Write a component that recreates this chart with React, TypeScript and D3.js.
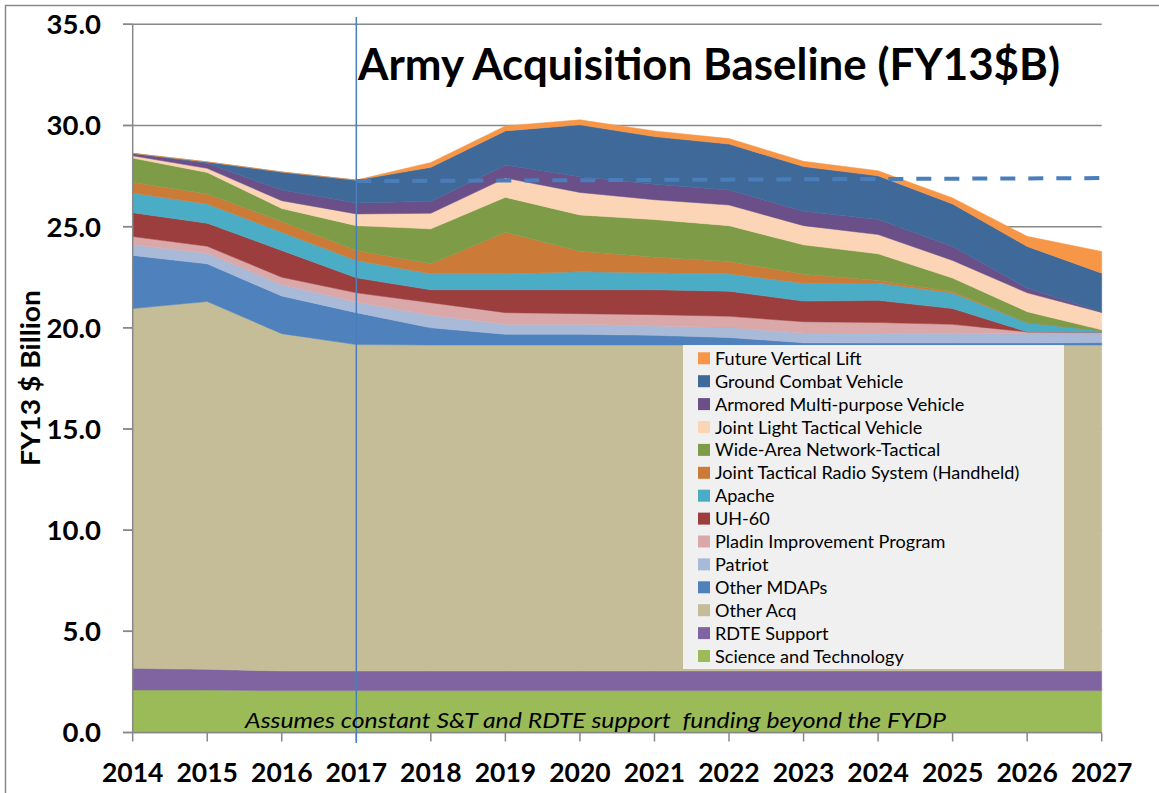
import React from "react";
import * as d3 from "d3";

// fiscal years on the x axis
const years = [2014, 2015, 2016, 2017, 2018, 2019, 2020, 2021, 2022, 2023, 2024, 2025, 2026, 2027];

// FY13 $B per program, bottom of the stack first
const scienceTech = [2.1, 2.1, 2.07, 2.07, 2.07, 2.07, 2.07, 2.07, 2.07, 2.07, 2.07, 2.07, 2.07, 2.07];
const rdteSupport = [1.07, 1.02, 0.97, 0.97, 0.97, 0.97, 0.97, 0.97, 0.97, 0.97, 0.97, 0.97, 0.97, 0.97];
const otherAcq = [17.78, 18.18, 16.67, 16.13, 16.11, 16.11, 16.11, 16.11, 16.11, 16.11, 16.11, 16.11, 16.11, 16.11];
const otherMdaps = [2.63, 1.86, 1.86, 1.58, 0.85, 0.53, 0.53, 0.48, 0.37, 0.11, 0.1, 0.1, 0.1, 0.12];
const patriot = [0.52, 0.53, 0.56, 0.52, 0.62, 0.49, 0.49, 0.46, 0.49, 0.48, 0.49, 0.46, 0.45, 0.43];
const pladin = [0.41, 0.34, 0.37, 0.46, 0.62, 0.58, 0.53, 0.56, 0.56, 0.56, 0.52, 0.46, 0.1, 0.08];
const uh60 = [1.18, 1.14, 1.32, 0.74, 0.64, 1.13, 1.18, 1.23, 1.24, 1.02, 1.1, 0.78, 0, 0];
const apache = [0.97, 0.95, 0.9, 0.86, 0.79, 0.79, 0.89, 0.84, 0.86, 0.88, 0.85, 0.77, 0.46, 0.08];
const jtrs = [0.54, 0.49, 0.54, 0.49, 0.49, 2.05, 1.02, 0.77, 0.61, 0.45, 0.13, 0.08, 0, 0];
const winT = [1.19, 1.07, 0.64, 1.23, 1.73, 1.73, 1.79, 1.86, 1.77, 1.45, 1.32, 0.66, 0.54, 0.04];
const jltv = [0.11, 0.2, 0.38, 0.58, 0.77, 0.95, 1.11, 0.98, 1.02, 0.95, 0.95, 0.87, 0.93, 0.86];
const ampv = [0.12, 0.24, 0.53, 0.54, 0.59, 0.64, 0.78, 0.77, 0.74, 0.71, 0.74, 0.69, 0.23, 0.02];
const gcv = [0, 0.08, 0.89, 1.13, 1.68, 1.69, 2.56, 2.35, 2.27, 2.21, 2.16, 2.1, 2.06, 1.92];
const fvl = [0, 0, 0, 0, 0.24, 0.25, 0.25, 0.28, 0.27, 0.26, 0.25, 0.3, 0.5, 1.07];

// dashed baseline from 2017 to 2027
const baselineYears = [2017, 2027];
const baselineValues = [27.25, 27.4];

const yTicks = [0, 5, 10, 15, 20, 25, 30, 35];

const series = [
  { name: "Science and Technology", values: scienceTech, color: "#9BBB59" },
  { name: "RDTE Support", values: rdteSupport, color: "#8064A2" },
  { name: "Other Acq", values: otherAcq, color: "#C4BD97" },
  { name: "Other MDAPs", values: otherMdaps, color: "#4F81BD" },
  { name: "Patriot", values: patriot, color: "#A9B9D8" },
  { name: "Pladin Improvement Program", values: pladin, color: "#DAA8A9" },
  { name: "UH-60", values: uh60, color: "#9D3E3E" },
  { name: "Apache", values: apache, color: "#4BACC6" },
  { name: "Joint Tactical Radio System (Handheld)", values: jtrs, color: "#CC7A37" },
  { name: "Wide-Area Network-Tactical", values: winT, color: "#7E9C48" },
  { name: "Joint Light Tactical Vehicle", values: jltv, color: "#FBD5B5" },
  { name: "Armored Multi-purpose Vehicle", values: ampv, color: "#6A4F88" },
  { name: "Ground Combat Vehicle", values: gcv, color: "#3F6999" },
  { name: "Future Vertical Lift", values: fvl, color: "#F79646" },
];

const font = "Lato, 'Open Sans', sans-serif";

export default function App() {
  const x = d3.scaleLinear().domain([2014, 2027]).range([132.7, 1101.7]);
  const y = d3.scaleLinear().domain([0, 35]).range([732.5, 24.3]);

  const rows = years.map((yr, i) => {
    const r: any = { year: yr };
    series.forEach((s) => (r[s.name] = s.values[i]));
    return r;
  });
  const stacked = d3.stack().keys(series.map((s) => s.name))(rows);

  const area = d3
    .area<any>()
    .x((d) => x(d.data.year))
    .y0((d) => y(d[0]))
    .y1((d) => y(d[1]));

  const dashLine = d3
    .line<number>()
    .x((d, i) => x(baselineYears[i]))
    .y((d) => y(d));

  const legendItems = [...series].reverse();
  const grid = "#888888";

  return (
    <svg
      width={1159}
      height={793}
      style={{ position: "absolute", left: 0, top: 0, background: "#fff" }}
      fontFamily={font}
    >
      <rect x={5.5} y={5.5} width={1300} height={1000} fill="#fff" stroke={grid} strokeWidth={1.5} />

      {/* gridlines */}
      {yTicks.map((t) => (
        <line key={t} x1={123} x2={x(2027)} y1={y(t)} y2={y(t)} stroke={grid} strokeWidth={1.5} />
      ))}

      {/* stacked areas */}
      {stacked.map((layer, i) => (
        <path
          key={layer.key}
          d={area(layer) || ""}
          fill={series[i].color}
          stroke={series[i].color}
          strokeWidth={0.5}
        />
      ))}

      {/* axes */}
      <line x1={x(2014)} x2={x(2014)} y1={y(35)} y2={y(0)} stroke={grid} strokeWidth={1.5} />
      <line x1={x(2014)} x2={x(2027)} y1={y(0)} y2={y(0)} stroke={grid} strokeWidth={1.5} />
      {yTicks.map((t) => (
        <g key={"yt" + t}>
          <line x1={123} x2={x(2014)} y1={y(t)} y2={y(t)} stroke={grid} strokeWidth={1.5} />
          <text
            x={101}
            y={y(t)}
            dy="0.36em"
            textAnchor="end"
            fontSize={27.5}
            fontWeight="bold"
          >
            {d3.format(".1f")(t)}
          </text>
        </g>
      ))}
      {years.map((yr) => (
        <g key={"xt" + yr}>
          <line x1={x(yr)} x2={x(yr)} y1={y(0)} y2={y(0) + 9} stroke={grid} strokeWidth={1.5} />
          <text x={x(yr)} y={782} textAnchor="middle" fontSize={26.5} fontWeight="bold">
            {yr}
          </text>
        </g>
      ))}

      {/* axis title */}
      <text
        transform="translate(40,378) rotate(-90)"
        textAnchor="middle"
        fontSize={26}
        fontWeight="bold"
        textLength={176}
        lengthAdjust="spacingAndGlyphs"
      >
        FY13 $ Billion
      </text>

      {/* 2017 marker and baseline */}
      <line x1={x(2017)} x2={x(2017)} y1={17} y2={743} stroke="#4A7EBB" strokeWidth={1.5} />
      <path
        d={dashLine(baselineValues) || ""}
        fill="none"
        stroke="#4A7EBB"
        strokeWidth={4}
        strokeDasharray="15 13"
      />

      {/* title */}
      <text
        x={358}
        y={80}
        fontSize={44}
        fontWeight="bold"
        textLength={702}
        lengthAdjust="spacingAndGlyphs"
      >
        Army Acquisition Baseline (FY13$B)
      </text>

      {/* legend */}
      <rect x={683} y={345} width={381} height={324} fill="#F0F0F0" />
      {legendItems.map((s, i) => {
        const cy = 358.3 + i * 22.9;
        return (
          <g key={"lg" + s.name}>
            <rect x={698} y={cy - 6} width={12} height={12} fill={s.color} />
            <text x={715} y={cy} dy="0.36em" fontSize={18.1} fill="#000">
              {s.name}
            </text>
          </g>
        );
      })}

      {/* note */}
      <text
        x={245}
        y={728}
        fontSize={22}
        fontStyle="italic"
        textLength={701}
        lengthAdjust="spacingAndGlyphs"
        style={{ whiteSpace: "pre" }}
      >
        {"Assumes constant S&T and RDTE support  funding beyond the FYDP"}
      </text>
    </svg>
  );
}
